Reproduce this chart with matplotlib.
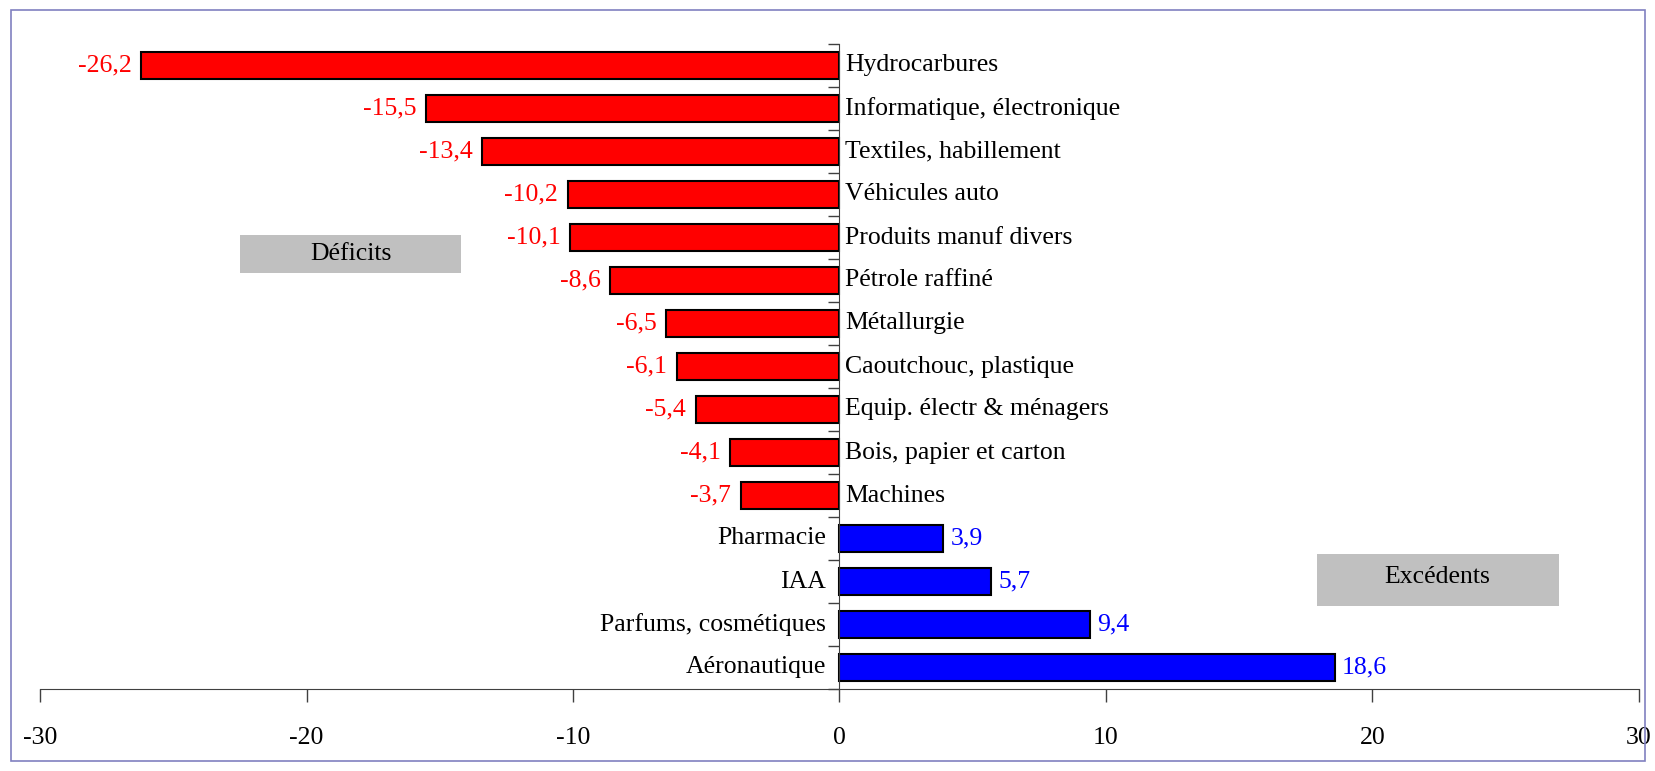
import matplotlib
matplotlib.use("Agg")
import matplotlib.pyplot as plt
from matplotlib.patches import Rectangle

# Data
categories = ["Hydrocarbures", "Informatique, électronique", "Textiles, habillement",
              "Véhicules auto", "Produits manuf divers", "Pétrole raffiné", "Métallurgie",
              "Caoutchouc, plastique", "Equip. électr & ménagers", "Bois, papier et carton",
              "Machines", "Pharmacie", "IAA", "Parfums, cosmétiques", "Aéronautique"]
values = [-26.2, -15.5, -13.4, -10.2, -10.1, -8.6, -6.5, -6.1, -5.4, -4.1, -3.7,
          3.9, 5.7, 9.4, 18.6]
xticks = [-30, -20, -10, 0, 10, 20, 30]

plt.rcParams['font.family'] = ['Liberation Serif', 'DejaVu Serif']
FS = 18.5

fig = plt.figure(figsize=(16.56, 7.71), dpi=100)
W, H = 1656, 771
ax = fig.add_axes([40 / W, (H - 689) / H, (1639 - 40) / W, (689 - 44) / H])

pos = list(range(len(categories)))
colors = ["#FF0000" if v < 0 else "#0000FF" for v in values]
ax.barh(pos, values, height=0.63, color=colors, edgecolor="black", linewidth=1.5, zorder=3)

ax.set_xlim(-30, 30)
ax.set_ylim(14.5, -0.5)

# Category labels and value labels
for p, cat, v in zip(pos, categories, values):
    lab = f"{v:.1f}".replace(".", ",")
    if v < 0:
        ax.text(0.22, p, cat, ha="left", va="center", fontsize=FS)
        ax.annotate(lab, (v, p), xytext=(-7, 0), textcoords="offset points",
                    ha="right", va="center", fontsize=FS, color="#FF0000")
    else:
        ax.text(-0.5, p, cat, ha="right", va="center", fontsize=FS)
        ax.annotate(lab, (v, p), xytext=(5, 0), textcoords="offset points",
                    ha="left", va="center", fontsize=FS, color="#0000FF")

# Spines
for s in ["top", "right"]:
    ax.spines[s].set_visible(False)
ax.spines["left"].set_position(("data", 0))
ax.spines["left"].set_color("#404040")
ax.spines["bottom"].set_color("#404040")
ax.spines["left"].set_zorder(4)
ax.set_yticks([b - 0.5 for b in range(len(categories) + 1)])
ax.set_yticklabels([])
ax.tick_params(axis="y", length=8, width=1, color="#404040", direction="out")
ax.set_xticks(xticks)
ax.set_xticklabels([str(t) for t in xticks], fontsize=FS)
ax.tick_params(axis="x", length=9, width=1, color="#404040", pad=18)

# Grey text boxes
ax.add_patch(Rectangle((-22.5, 3.94), 8.3, 0.89, facecolor="#C0C0C0", edgecolor="none", zorder=2))
ax.text(-18.35, 4.385, "Déficits", ha="center", va="center", fontsize=FS)
ax.add_patch(Rectangle((17.9, 11.36), 9.08, 1.2, facecolor="#C0C0C0", edgecolor="none", zorder=2))
ax.text(22.44, 11.9, "Excédents", ha="center", va="center", fontsize=FS)

# Outer border
fig.add_artist(Rectangle((11 / W, 10 / H), (1645 - 11) / W, (761 - 10) / H,
                         transform=fig.transFigure, fill=False,
                         edgecolor="#8080C0", linewidth=1.2))

fig.savefig("out.png", dpi=100)
